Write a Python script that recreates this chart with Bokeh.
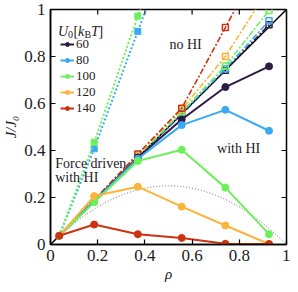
import math
from bokeh.plotting import figure
from bokeh.models import Range1d, Legend, LegendItem, Label, FixedTicker
from bokeh.embed import file_html
from bokeh.resources import INLINE

# ---- data ----
rho = [0.037, 0.185, 0.370, 0.556, 0.741, 0.926]
U0_labels = ["60", "80", "100", "120", "140"]
colors = ["#2d1a45", "#3aa8f2", "#6cf05a", "#fab43a", "#cc3311"]

# with HI (solid, filled circles)
withHI = {
    "60":  [0.037, 0.185, 0.370, 0.532, 0.670, 0.758],
    "80":  [0.037, 0.185, 0.365, 0.508, 0.573, 0.484],
    "100": [0.037, 0.180, 0.355, 0.403, 0.242, 0.044],
    "120": [0.037, 0.206, 0.246, 0.161, 0.081, 0.002],
    "140": [0.037, 0.085, 0.044, 0.028, 0.003, 0.002],
}
# no HI (dash-dot, open squares)
noHI = {
    "60":  [0.037, 0.185, 0.370, 0.555, 0.742, 0.935],
    "80":  [0.037, 0.185, 0.370, 0.560, 0.748, 0.952],
    "100": [0.037, 0.185, 0.375, 0.565, 0.760, 0.996],
    "120": [0.037, 0.190, 0.380, 0.575, 0.800, 1.090],
    "140": [0.037, 0.190, 0.385, 0.580, 0.923, 1.270],
}
# force driven with HI (dotted, filled squares)
rho_force = [0.037, 0.185, 0.370, 0.556]
force = {
    "80":  [0.037, 0.407, 0.907, 1.410],
    "100": [0.037, 0.435, 0.972, 1.510],
}
# ideal line and thin dotted curve
rho_diag = [0.0, 1.0]
J_diag = [0.0, 1.0]
rho_curve = [0.0, 0.05, 0.1, 0.15, 0.2, 0.25, 0.3, 0.35, 0.4, 0.45, 0.5,
             0.55, 0.6, 0.65, 0.7, 0.75, 0.8, 0.85, 0.9, 0.95, 1.0]
J_curve = [0.0, 0.0475, 0.09, 0.1275, 0.16, 0.1875, 0.21, 0.2275, 0.24, 0.2475, 0.25,
           0.2475, 0.24, 0.2275, 0.21, 0.1875, 0.16, 0.1275, 0.09, 0.0475, 0.0]
ticks = [0, 0.2, 0.4, 0.6, 0.8, 1.0]
tick_labels = {0: "0", 0.2: "0.2", 0.4: "0.4", 0.6: "0.6", 0.8: "0.8", 1: "1"}

FONT = "Liberation Serif"
TXT = "#222222"

p = figure(width=290, height=284, output_backend="svg", toolbar_location=None,
           x_range=Range1d(0, 1), y_range=Range1d(0, 1),
           min_border_left=45, min_border_right=4, min_border_top=9, min_border_bottom=0)
p.grid.visible = False
p.background_fill_color = "white"
p.border_fill_color = "white"
p.outline_line_color = "black"
p.outline_line_width = 1.5

for ax in [p.xaxis[0], p.yaxis[0]]:
    ax.ticker = FixedTicker(ticks=ticks)
    ax.major_label_overrides = tick_labels
    ax.major_tick_in = 5
    ax.major_tick_out = 0
    ax.minor_tick_line_color = None
    ax.major_label_text_font = FONT
    ax.major_label_text_font_size = "17px"
    ax.major_label_text_color = TXT
    ax.axis_line_width = 1.5
    ax.major_tick_line_width = 1.2
    ax.axis_label_text_font = FONT
    ax.axis_label_text_font_style = "italic"
    ax.axis_label_text_font_size = "15px"
    ax.axis_label_text_color = TXT
p.xaxis[0].axis_label = "ρ"
p.xaxis[0].major_label_standoff = 5
p.xaxis[0].axis_label_standoff = 2
p.yaxis[0].axis_label = "J/J₀"
p.yaxis[0].major_label_standoff = 5
p.yaxis[0].axis_label_standoff = 2

# inward ticks on the top and right edges of the frame
p.ray(x=ticks, y=1, length=5, angle=-math.pi / 2, length_units="screen",
      line_color="black", line_width=1.2)
p.ray(x=1, y=ticks, length=5, angle=math.pi, length_units="screen",
      line_color="black", line_width=1.2)

# thin dotted curve and diagonal
p.line(rho_curve, J_curve, line_color="#555555", line_width=0.8, line_dash="1 2")
p.line(rho_diag, J_diag, line_color="black", line_width=1.5)

# no HI
for lab, c in zip(U0_labels, colors):
    p.line(rho, noHI[lab], line_color=c, line_width=1.6, line_dash="6 2 2 2")
    p.scatter(rho[2:], noHI[lab][2:], marker="square", size=6, fill_color=None,
              line_color=c, line_width=1.5)

# force driven
for lab in ["80", "100"]:
    c = colors[U0_labels.index(lab)]
    p.line(rho_force, force[lab], line_color=c, line_width=2, line_dash="2 2")
    p.scatter(rho_force[1:], force[lab][1:], marker="square", size=6, fill_color=c,
              line_color=c)

# with HI
items = []
for lab, c in zip(U0_labels, colors):
    r1 = p.line(rho, withHI[lab], line_color=c, line_width=2)
    r2 = p.scatter(rho, withHI[lab], marker="circle", size=7, fill_color=c, line_color=c)
    items.append(LegendItem(label=lab, renderers=[r1, r2]))

legend = Legend(items=items, location=(10, 128), padding=0, margin=0,
                background_fill_alpha=0, border_line_color=None,
                label_text_font=FONT, label_text_font_size="13px",
                label_text_color=TXT,
                glyph_width=14, glyph_height=10, label_height=10, label_standoff=2,
                spacing=-8)
p.add_layout(legend)

# legend title U0[kB T]
ty = 0.905
tx = 0.032
parts = [("U", 0, 0, "14px", "italic"), ("0", 10, -3, "10px", "normal"),
         ("[", 15.5, 0, "14px", "normal"), ("k", 20, 0, "14px", "italic"),
         ("B", 26.5, -3, "10px", "normal"), ("T", 33, 0, "14px", "italic"),
         ("]", 40.5, 0, "14px", "normal")]
for t, dx, dy, fs, st in parts:
    p.add_layout(Label(x=tx, y=ty, x_offset=dx, y_offset=dy, text=t,
                       text_font=FONT, text_font_size=fs, text_font_style=st,
                       text_color=TXT, text_baseline="alphabetic"))

# annotations
for t, x, y in [("no HI", 0.504, 0.85), ("with HI", 0.706, 0.41),
                ("Force driven", 0.02, 0.345), ("with HI", 0.02, 0.285)]:
    p.add_layout(Label(x=x, y=y, text=t, text_font=FONT, text_font_size="14px",
                       text_color=TXT, text_baseline="middle"))

open("out.html", "w").write(file_html(p, INLINE))
